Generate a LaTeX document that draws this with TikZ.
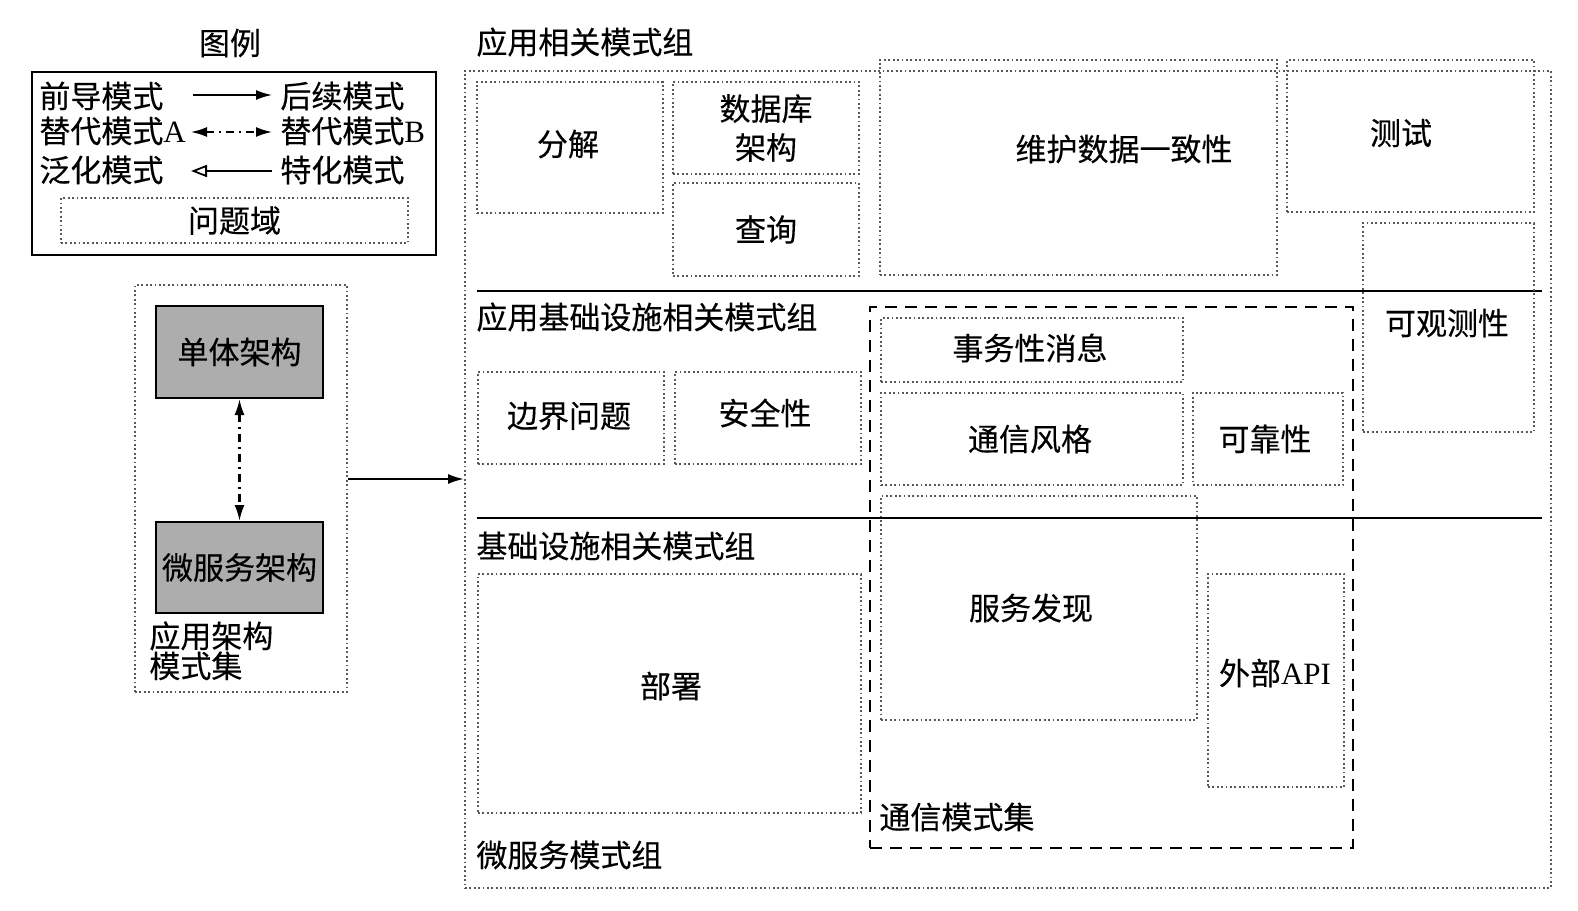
\documentclass[tikz,border=0pt]{standalone}
\usepackage{fontspec}
\setmainfont{Liberation Serif}
\newfontfamily\cjk{Noto Sans CJK SC}[FakeBold=0.3]
\usetikzlibrary{arrows.meta}
\begin{document}
\begin{tikzpicture}[x=0.5pt,y=-0.5pt,
  every node/.style={inner sep=0pt, font=\cjk\fontsize{15.5}{18}\selectfont},
  sz/.style 2 args={minimum width=#1, minimum height=#2},
  dotbox/.style={draw=black!65, line width=0.9pt, dash pattern=on 0.9pt off 1.3pt},
  dashbox/.style={draw=black, line width=1pt, dash pattern=on 6pt off 4pt},
  solidbox/.style={draw=black, line width=1.2pt},
  graybox/.style={draw=black, line width=1pt, fill=black!32},
  lbl/.style={anchor=west},
  tip/.style={-{Latex[length=8pt,width=5pt]}},
  dtip/.style={{Latex[length=8pt,width=5pt]}-{Latex[length=8pt,width=5pt]}},
  dashdot/.style={dash pattern=on 4pt off 2.5pt on 1pt off 2.5pt}
]
\fill[white] (0,0) rectangle (1578,910);
\useasboundingbox (0,0) rectangle (1578,910);

% ---------- legend ----------
\node (legtitle) at (230,43) {图例};
\node[solidbox, sz={202pt}{91.5pt}] (legend) at (234,163.5) {};
\node[lbl] (pre) at (39,96) {前导模式};
\node[lbl] (post) at (280,96) {后续模式};
\node[lbl] (altA) at (39,131) {替代模式{\rmfamily A}};
\node[lbl] (altB) at (280,131) {替代模式{\rmfamily B}};
\node[lbl] (gen) at (39,170) {泛化模式};
\node[lbl] (spec) at (280,170) {特化模式};
\coordinate (l1a) at (193,95);  \coordinate (l1b) at (272,95);
\coordinate (l2a) at (191,132); \coordinate (l2b) at (272,132);
\coordinate (l3a) at (191,171); \coordinate (l3b) at (272,171);
\draw[tip, line width=0.9pt] (l1a) -- (l1b);
\draw[dtip, line width=0.9pt, dashdot] (l2a) -- (l2b);
\draw[-{Triangle[open,length=8pt,width=6pt]}, line width=0.9pt] (l3b) -- (l3a);
\node[dotbox, sz={173.5pt}{22.5pt}] (domain) at (234.5,220.5) {问题域};

% ---------- application architecture pattern set ----------
\node[dotbox, sz={106pt}{203.5pt}] (appset) at (241,488.5) {};
\node[graybox, sz={83.5pt}{46pt}] (mono) at (239.5,352) {单体架构};
\node[graybox, sz={83.5pt}{45.5pt}] (micro) at (239.5,567.5) {微服务架构};
\draw[dtip, line width=1.1pt, dashdot] (mono) -- (micro);
\node[anchor=north west, align=left, font=\cjk\fontsize{15.5}{15}\selectfont] (appsetlbl) at (149,621) {应用架构\\模式集};

% ---------- microservice pattern group ----------
\node[dotbox, sz={543pt}{408.5pt}] (msgroup) at (1008,479.5) {};
\draw[tip, line width=1.1pt] (appset.east |- 0,479) -- (msgroup.west |- 0,479);

\node[lbl] (g1) at (476,42) {应用相关模式组};
\node[lbl] (g2) at (476,317) {应用基础设施相关模式组};
\node[lbl] (g3) at (476,546) {基础设施相关模式组};
\node[lbl] (g4) at (476,855) {微服务模式组};

\coordinate (h1a) at (477,291); \coordinate (h1b) at (1542,291);
\coordinate (h2a) at (477,518); \coordinate (h2b) at (1542,518);
\draw[line width=1.2pt] (h1a) -- (h1b);
\draw[line width=1.2pt] (h2a) -- (h2b);

% application patterns
\node[dotbox, sz={93pt}{65.5pt}] (decomp) at (570,147.5) {};
\node (decomplbl) at (568,144) {分解};
\node[dotbox, sz={93pt}{46pt}, align=center, font=\cjk\fontsize{15.5}{19.5}\selectfont] (dbarch) at (766,128) {数据库\\架构};
\node[dotbox, sz={93pt}{46.5pt}] (query) at (766,229.5) {查询};
\node[dotbox, sz={198.5pt}{107.5pt}] (consist) at (1078.5,167.5) {};
\node (consistlbl) at (1124,149) {维护数据一致性};
\node[dotbox, sz={123.5pt}{76pt}] (test) at (1410.5,136) {};
\node (testlbl) at (1401,133) {测试};
\node[dotbox, sz={85.5pt}{104.5pt}] (observe) at (1448.5,327.5) {};
\node (observelbl) at (1447,323) {可观测性};

% application infrastructure patterns
\node[dotbox, sz={93pt}{46pt}] (boundary) at (571,418) {};
\node (boundarylbl) at (569,416) {边界问题};
\node[dotbox, sz={93pt}{46pt}] (security) at (768,418) {};
\node (securitylbl) at (765,413) {安全性};

% communication pattern set
\node[dashbox, sz={241.5pt}{270.5pt}] (commset) at (1111.5,577.5) {};
\node[lbl] (commlbl) at (879,817) {通信模式集};
\node[dotbox, sz={151pt}{32pt}] (txmsg) at (1032,350) {};
\node (txmsglbl) at (1030,348) {事务性消息};
\node[dotbox, sz={151pt}{46pt}] (style) at (1032,439) {};
\node (stylelbl) at (1030,439) {通信风格};
\node[dotbox, sz={75pt}{46pt}] (reliab) at (1268,439) {};
\node (reliablbl) at (1265,439) {可靠性};
\node[dotbox, sz={158pt}{112pt}] (discovery) at (1039,608) {};
\node (discoverylbl) at (1031,608) {服务发现};
\node[dotbox, sz={68pt}{106.5pt}] (extapi) at (1276,680.5) {};
\node (extapilbl) at (1275,673) {外部{\rmfamily API}};

% infrastructure patterns
\node[dotbox, sz={191.5pt}{119.5pt}] (deploy) at (669.5,693.5) {};
\node (deploylbl) at (671,686) {部署};
\end{tikzpicture}
\end{document}
